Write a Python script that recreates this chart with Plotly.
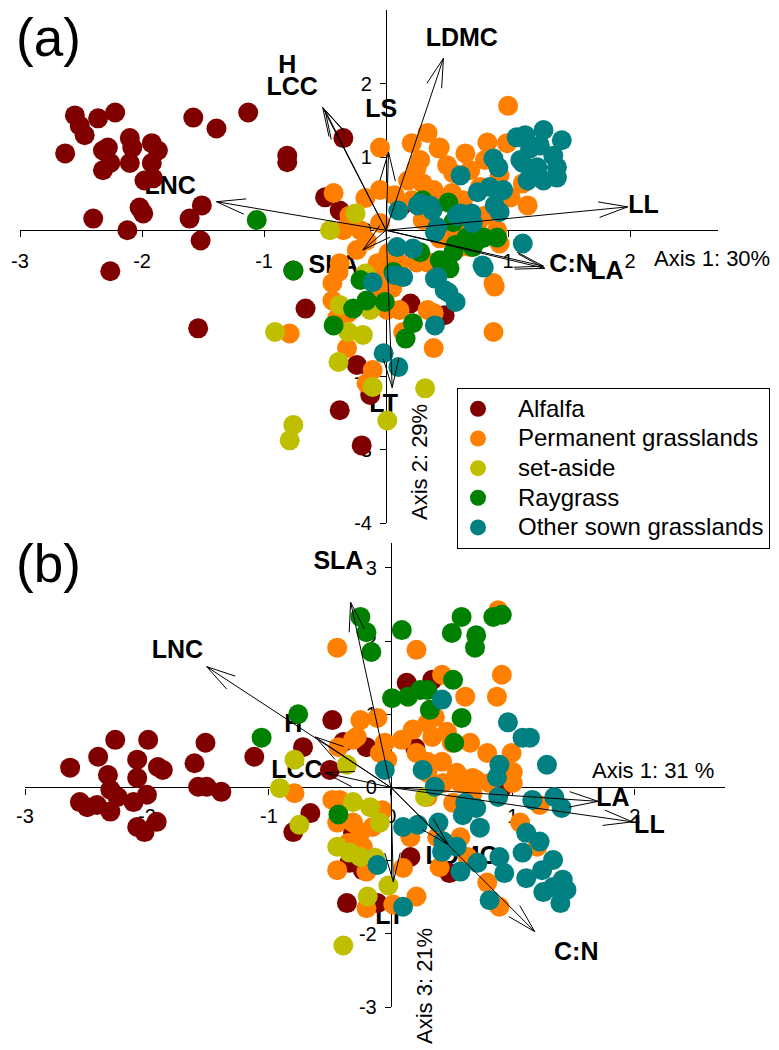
import math
import plotly.graph_objects as go

W, H = 779, 1050
FONT = "Liberation Sans, Arial, sans-serif"

groups = ["Alfalfa", "Permanent grasslands", "set-aside", "Raygrass", "Other sown grasslands"]
colors = ["#800000", "#FF8000", "#BFBF00", "#008000", "#008080"]

# ---------------- Panel (a): Axis 1 vs Axis 2 ----------------
alfalfa_a = [(-2.55,1.57),(-2.51,1.43),(-2.47,1.30),(-2.36,1.53),(-2.22,1.61),(-2.63,1.05),(-2.32,1.09),
             (-2.28,1.13),(-2.32,0.82),(-2.26,0.92),(-2.10,1.26),(-2.08,1.13),(-2.10,0.92),(-1.92,1.19),
             (-1.87,1.09),(-1.92,0.92),(-1.98,0.68),(-1.91,0.71),(-1.58,1.54),(-1.39,1.39),(-1.13,1.61),
             (-0.81,1.02),(-0.81,0.93),(-0.35,1.26),(-2.02,0.31),(-1.99,0.23),(-1.51,0.34),(-1.61,0.16),
             (-1.52,-0.14),(-2.40,0.16),(-2.12,0.00),(-2.26,-0.56),(-1.54,-1.34),(-0.66,-1.07),(-0.50,0.45),
             (-0.38,0.27),(-0.76,-0.55),(-0.24,-1.84),(-0.38,-2.46),(-0.20,-2.94),(-0.13,-2.25),(0.20,-1.00),
             (0.48,-1.16),(0.13,0.34)]
permanent_a = [(1.00,1.70),(-0.05,1.13),(0.21,1.19),(0.34,1.33),(0.43,1.12),(0.28,0.96),(0.25,0.85),(0.50,0.89),
               (0.55,0.78),(0.65,1.05),(0.83,1.20),(0.99,1.19),(0.18,0.68),(0.30,0.64),(0.39,0.55),(-0.05,0.55),
               (-0.17,0.44),(-0.43,0.51),(0.77,0.59),(1.12,0.64),(1.16,0.34),(1.02,0.45),(0.63,0.41),(0.21,0.41),
               (0.42,0.37),(-0.35,0.00),(-0.21,0.00),(-0.05,0.10),(0.30,0.14),(0.61,0.00),(0.75,0.10),(0.91,0.00),
               (0.93,-0.18),(0.69,-0.23),(0.44,1.13),(0.54,0.51),(0.89,-0.77),(0.88,-1.39),(0.39,-1.61),(0.39,-1.13),
               (0.34,-0.44),(0.11,-0.45),(0.01,-1.09),(-0.05,-0.68),(-0.38,-0.45),(-0.44,-0.72),(-0.44,-0.96),
               (-0.40,-1.20),(-0.31,-1.13),(-0.11,-0.96),(-0.07,-0.78),(-0.32,-1.61),(-0.11,-1.91),(-0.16,-2.09),
               (-0.79,-1.41),(0.11,-1.09),(0.14,-1.39),(0.34,-1.09),(0.88,-0.72),(-0.07,-0.45),(0.02,-0.31),
               (0.25,-0.44),(0.38,-0.45),(0.61,-0.23),(-0.39,-0.57),(0.07,0.48),(0.69,0.82),(0.81,0.96),(0.93,0.75),
               (-0.30,0.20),(-0.16,-0.14),(-0.24,-0.27),(0.55,0.00),(0.81,0.20),(0.44,-0.11),(0.05,-0.79)]
setaside_a = [(-0.46,0.00),(-0.25,0.23),(-0.17,-0.59),(-0.38,-1.02),(-0.13,-1.09),(-0.31,-1.39),(-0.19,-1.43),
              (-0.39,-1.80),(-0.11,-2.14),(0.01,-2.60),(-0.76,-2.66),(-0.79,-2.87),(-0.91,-1.39),(0.32,-2.16)]
raygrass_a = [(-1.06,0.14),(-0.76,-0.55),(0.30,0.41),(0.51,0.38),(0.55,0.11),(0.66,-0.10),(0.80,-0.10),(0.91,-0.10),
              (0.71,-0.23),(0.75,-0.14),(0.50,-0.45),(0.57,-0.20),(0.52,-0.52),(0.44,-0.41),(0.28,-0.30),(0.22,-1.27),
              (0.16,-1.48),(-0.01,-0.98),(-0.21,-0.68),(-0.43,-1.30),(-0.27,-1.07),(-0.16,-0.96),(0.06,-0.57),
              (0.46,-0.45),(0.55,-0.30)]
othersown_a = [(1.07,1.27),(1.29,1.37),(1.44,1.23),(1.18,1.12),(1.37,1.02),(1.12,0.92),(1.24,0.86),(1.40,0.86),
               (1.16,0.68),(1.29,0.68),(1.40,0.72),(1.26,1.16),(1.10,0.96),(0.88,0.98),(0.92,0.86),(1.14,1.30),
               (0.61,0.75),(0.75,0.52),(0.85,0.59),(0.96,0.55),(0.89,0.34),(0.93,0.25),(0.36,0.34),(0.28,0.37),
               (0.61,0.23),(0.70,0.23),(0.71,0.10),(0.42,0.04),(0.10,0.27),(1.12,-0.18),(0.80,-0.51),(0.22,-0.25),
               (0.09,-0.23),(0.40,-1.30),(0.40,-0.66),(0.48,-0.82),(0.57,-0.98),(0.07,-0.61),(0.10,-1.87),
               (-0.02,-1.68),(0.79,-0.48),(-0.11,-0.71),(0.14,-0.64),(0.42,-0.64),(0.51,-0.85),(0.26,0.34),
               (0.38,0.27),(0.58,0.20),(0.40,-0.03)]

traits_a = ["LNC", "H", "LCC", "LS", "LDMC", "LL", "C:N", "LA", "SLA", "LT"]
tip_a_x = [-1.39, -0.52, -0.50, 0.02, 0.47, 1.98, 1.29, 1.30, -0.19, 0.05]
tip_a_y = [0.39, 1.68, 1.64, 1.07, 2.35, 0.32, -0.49, -0.52, -0.27, -2.15]
lab_a_x = [-1.77, -0.81, -0.77, -0.04, 0.62, 2.11, 1.52, 1.81, -0.43, -0.02]
lab_a_y = [0.58, 2.23, 1.93, 1.63, 2.61, 0.32, -0.49, -0.58, -0.50, -2.40]

# ---------------- Panel (b): Axis 1 vs Axis 3 ----------------
alfalfa_b = [(-2.63,0.27),(-2.26,0.65),(-2.40,0.42),(-2.32,0.17),(-2.08,0.38),(-2.08,0.13),(-1.99,0.65),(-1.91,0.28),
             (-1.87,0.24),(-1.52,0.61),(-1.61,0.33),(-1.58,0.01),(-1.51,0.01),(-1.39,-0.06),(-1.12,0.42),
             (-2.55,-0.20),(-2.49,-0.27),(-2.41,-0.24),(-2.30,-0.33),(-2.24,-0.13),(-2.11,-0.20),(-2.00,-0.10),
             (-2.08,-0.54),(-2.02,-0.61),(-1.92,-0.47),(-2.30,-0.03),(-0.48,0.92),(-0.72,0.55),(-0.39,0.62),
             (-0.20,0.55),(-0.50,0.24),(-0.66,-0.35),(-0.80,-0.61),(-0.36,-1.58),(-0.31,-0.62),(-0.34,-1.03),
             (-0.11,-1.58),(-0.23,-1.13),(0.16,-0.95),(0.48,-1.17),(0.91,-0.01),(0.13,1.43),(0.34,1.47),(0.20,0.54)]
permanent_b = [(-0.44,1.91),(0.21,1.88),(0.88,2.42),(0.91,1.54),(0.87,1.24),(0.42,1.54),(0.61,1.24),(-0.25,0.92),
               (-0.11,0.95),(-0.28,0.69),(-0.43,0.55),(-0.05,0.61),(0.09,0.65),(0.18,0.79),(0.30,0.88),(0.34,0.69),
               (0.46,0.76),(0.50,0.61),(0.65,0.61),(0.79,0.47),(0.99,0.47),(1.00,0.21),(0.30,0.35),(0.42,0.35),
               (0.54,0.20),(0.70,0.10),(-0.03,0.38),(-0.09,0.47),(0.21,0.47),(0.36,0.96),(0.67,0.13),(0.30,0.20),
               (0.43,0.06),(0.81,0.06),(-0.79,-0.08),(-0.42,-0.17),(-0.44,-0.48),(-0.25,-0.62),(-0.15,-0.54),
               (-0.35,-0.76),(-0.23,-0.81),(-0.44,-1.13),(-0.20,-1.15),(0.16,-0.68),(0.21,-1.49),(0.02,-1.60),
               (0.10,-1.10),(0.30,-0.13),(0.38,-0.68),(0.40,-1.09),(0.57,-0.68),(0.63,-0.95),(0.79,-1.30),
               (0.89,-1.63),(1.06,-0.48),(1.20,-0.81),(0.51,-0.21),(0.67,-0.08),(1.00,0.06),(1.22,-0.24),
               (0.57,0.06),(-0.07,-0.31),(-0.31,-0.48),(-0.20,-1.65),(-0.48,-0.17),(-0.31,0.65)]
setaside_b = [(-0.79,0.38),(-0.36,0.31),(-0.91,-0.01),(-0.31,-0.20),(-0.17,-0.27),(-0.75,-0.51),(-0.09,-0.48),
              (-0.44,-0.81),(-0.34,-0.89),(-0.25,-0.95),(-0.13,-0.96),(-0.02,-1.34),(-0.19,-1.49),(-0.39,-2.16),
              (0.28,-0.13)]
raygrass_b = [(-0.25,2.33),(-0.20,2.12),(-0.16,1.85),(0.09,2.15),(0.58,2.33),(0.50,2.11),(0.70,2.08),(0.69,1.91),
              (0.84,2.33),(0.91,2.36),(0.01,1.22),(0.14,1.24),(0.24,1.33),(0.30,1.33),(0.32,1.06),(0.51,1.47),
              (0.58,0.95),(0.52,0.61),(-0.76,1.00),(-1.06,0.68),(-0.43,-0.37)]
othersown_b = [(0.42,1.20),(0.96,0.89),(1.08,0.68),(1.14,0.68),(1.28,0.31),(0.89,0.31),(0.87,0.14),(0.26,0.24),
               (0.36,0.01),(-0.05,0.24),(0.88,-0.13),(1.16,-0.17),(1.34,-0.13),(1.40,-0.28),(0.70,-0.28),
               (0.61,-0.21),(0.10,-0.54),(0.22,-0.51),(0.39,-0.48),(0.59,-0.38),(0.73,-0.55),(0.43,-0.74),
               (0.54,-0.81),(0.42,-0.88),(0.57,-1.15),(0.71,-1.03),(-0.11,-1.06),(0.10,-1.63),(0.89,-0.95),
               (0.93,-1.17),(1.08,-0.89),(1.11,-0.62),(1.22,-0.74),(1.33,-0.99),(1.24,-1.13),(1.11,-1.24),
               (1.33,-1.36),(1.41,-1.26),(1.39,-1.58),(0.81,-1.54),(1.25,-1.43),(1.44,-1.40)]

traits_b = ["SLA", "LNC", "H", "LCC", "LA", "LL", "C:N", "LT", "LDMC"]
tip_b_x = [-0.33, -1.51, -0.62, -0.54, 1.70, 1.98, 1.18, 0.02, 0.47]
tip_b_y = [2.53, 1.65, 0.69, 0.20, -0.19, -0.47, -1.97, -1.29, -0.78]
lab_b_x = [-0.43, -1.75, -0.80, -0.77, 1.82, 2.12, 1.52, -0.01, 0.58]
lab_b_y = [3.07, 1.85, 0.84, 0.21, -0.17, -0.54, -2.27, -1.78, -0.96]

# tick labels
xticks = [-3, -2, -1, 0, 1, 2]
yticks_a = [-4, -3, -2, -1, 0, 1, 2]
yticks_b = [-3, -2, -1, 0, 1, 2, 3]

# ---------------- layout geometry ----------------
xr_a, xd_a = [-3, 2.72], [20 / W, 718 / W]
yr_a, yd_a = [-4, 3.01], [1 - 523 / H, 1 - 10 / H]
xr_b, xd_b = [-3, 2.74], [25 / W, 725 / W]
yr_b, yd_b = [-3, 3.34], [1 - 1007 / H, 1 - 543 / H]


def zero_pos(r, d):
    return d[0] + (0 - r[0]) / (r[1] - r[0]) * (d[1] - d[0])


def px_per_unit(r, d, size):
    return (d[1] - d[0]) * size / (r[1] - r[0])


def arrow_path(tx, ty, sx, sy, head=30.0, ang=15.0):
    xs, ys = [], []
    a = math.radians(ang)
    for x, y in zip(tx, ty):
        xs += [0, x, None]
        ys += [0, y, None]
        dx, dy = x * sx, y * sy
        L = math.hypot(dx, dy)
        vx, vy = -dx / L, -dy / L
        pts = []
        for s in (1, -1):
            rx = vx * math.cos(s * a) - vy * math.sin(s * a)
            ry = vx * math.sin(s * a) + vy * math.cos(s * a)
            pts.append((x + head * rx / sx, y + head * ry / sy))
        xs += [pts[0][0], x, pts[1][0], None]
        ys += [pts[0][1], y, pts[1][1], None]
    return xs, ys


fig = go.Figure()

# arrow labels (drawn beneath the points)
for tr, lx, ly, xa, ya in [(traits_a, lab_a_x, lab_a_y, "x", "y"), (traits_b, lab_b_x, lab_b_y, "x2", "y2")]:
    fig.add_trace(go.Scatter(x=lx, y=ly, text=tr, mode="text", xaxis=xa, yaxis=ya,
                             textfont=dict(family=FONT, size=25, color="black", weight="bold"),
                             showlegend=False, hoverinfo="skip", cliponaxis=False))

panel_a = [alfalfa_a, permanent_a, setaside_a, raygrass_a, othersown_a]
panel_b = [alfalfa_b, permanent_b, setaside_b, raygrass_b, othersown_b]

NB = "\u00a0"
for i, (g, c) in enumerate(zip(groups, colors)):
    px_, py_ = zip(*panel_a[i])
    fig.add_trace(go.Scatter(
        x=px_, y=py_, mode="markers", xaxis="x", yaxis="y",
        name='<span style="font-size:24px">' + NB * 3 + g + '</span>',
        marker=dict(size=20, color=c, line=dict(width=0)), cliponaxis=False, legendgroup=g))
for i, (g, c) in enumerate(zip(groups, colors)):
    px_, py_ = zip(*panel_b[i])
    fig.add_trace(go.Scatter(
        x=px_, y=py_, mode="markers", xaxis="x2", yaxis="y2", name=g, showlegend=False,
        marker=dict(size=20, color=c, line=dict(width=0)), cliponaxis=False, legendgroup=g))

sxa, sya = px_per_unit(xr_a, xd_a, W), px_per_unit(yr_a, yd_a, H)
sxb, syb = px_per_unit(xr_b, xd_b, W), px_per_unit(yr_b, yd_b, H)
ax_, ay_ = arrow_path(tip_a_x, tip_a_y, sxa, sya)
bx_, by_ = arrow_path(tip_b_x, tip_b_y, sxb, syb)
fig.add_trace(go.Scatter(x=ax_, y=ay_, mode="lines", xaxis="x", yaxis="y", line=dict(color="black", width=1),
                         showlegend=False, hoverinfo="skip", cliponaxis=False))
fig.add_trace(go.Scatter(x=bx_, y=by_, mode="lines", xaxis="x2", yaxis="y2", line=dict(color="black", width=1),
                         showlegend=False, hoverinfo="skip", cliponaxis=False))

tickfont = dict(family=FONT, size=20, color="black")
common = dict(showgrid=False, zeroline=False, showline=True, linecolor="black", linewidth=1.2,
              ticks="outside", ticklen=6, tickwidth=1.2, tickcolor="black", tickfont=tickfont,
              layer="below traces", anchor="free", fixedrange=True)


def lab(v):
    return [str(t) for t in v]


fig.update_layout(
    width=W, height=H, margin=dict(l=0, r=0, t=0, b=0, autoexpand=False),
    paper_bgcolor="white", plot_bgcolor="white", hovermode=False,
    font=dict(family=FONT, color="black"),
    xaxis=dict(domain=xd_a, range=xr_a, position=zero_pos(yr_a, yd_a), tickvals=xticks, ticktext=lab(xticks),
               ticklabelstandoff=7, **common),
    yaxis=dict(domain=yd_a, range=yr_a, position=zero_pos(xr_a, xd_a), tickvals=yticks_a, ticktext=lab(yticks_a),
               ticklabelstandoff=4, **common),
    xaxis2=dict(domain=xd_b, range=xr_b, position=zero_pos(yr_b, yd_b), tickvals=xticks, ticktext=lab(xticks),
                ticklabelstandoff=4, **common),
    yaxis2=dict(domain=yd_b, range=yr_b, position=zero_pos(xr_b, xd_b), tickvals=yticks_b, ticktext=lab(yticks_b),
                ticklabelstandoff=4, **common),
    legend=dict(x=457 / W, y=1 - 388 / H, xanchor="left", yanchor="top", bgcolor="white",
                bordercolor="black", borderwidth=1, font=dict(family=FONT, size=20.5, color="black"),
                itemsizing="trace", itemwidth=30, tracegroupgap=0),
    annotations=[
        dict(text="(a)", x=48 / W, y=1 - 37 / H, xref="paper", yref="paper", showarrow=False,
             font=dict(family=FONT, size=53), xanchor="center", yanchor="middle"),
        dict(text="(b)", x=48 / W, y=1 - 563 / H, xref="paper", yref="paper", showarrow=False,
             font=dict(family=FONT, size=53), xanchor="center", yanchor="middle"),
        dict(text="Axis 1: 30%", x=652 / W, y=1 - 258 / H, xref="paper", yref="paper", showarrow=False,
             font=dict(family=FONT, size=22), xanchor="left", yanchor="middle"),
        dict(text="Axis 2: 29%", x=420 / W, y=1 - 462 / H, xref="paper", yref="paper", showarrow=False,
             font=dict(family=FONT, size=22), xanchor="center", yanchor="middle", textangle=-90),
        dict(text="Axis 1: 31 %", x=590 / W, y=1 - 770 / H, xref="paper", yref="paper", showarrow=False,
             font=dict(family=FONT, size=22), xanchor="left", yanchor="middle"),
        dict(text="Axis 3: 21%", x=424 / W, y=1 - 986 / H, xref="paper", yref="paper", showarrow=False,
             font=dict(family=FONT, size=22), xanchor="center", yanchor="middle", textangle=-90),
    ],
)

fig.write_html("out.html", config={"displayModeBar": False},
               post_script="document.body.style.margin='0px';")
